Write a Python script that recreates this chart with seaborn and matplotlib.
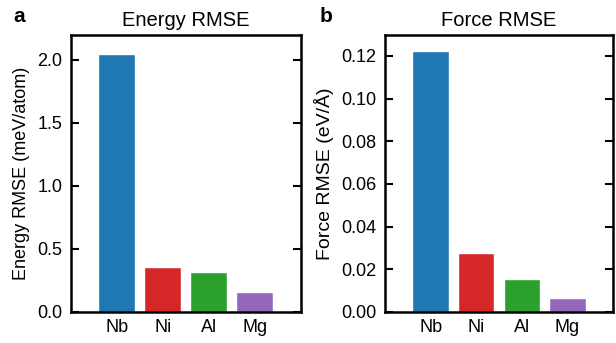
import matplotlib
matplotlib.use("Agg")
import matplotlib.pyplot as plt
import seaborn as sns
import pandas as pd

elements = ["Nb", "Ni", "Al", "Mg"]
energy_rmse = [2.048, 0.36, 0.318, 0.159]   # meV/atom
force_rmse = [0.1224, 0.0277, 0.0155, 0.0066]  # eV/A
colors = ["#1f77b4", "#d62728", "#2ca02c", "#9467bd"]

sns.set_style("ticks")
plt.rcParams["font.family"] = ["Liberation Sans", "DejaVu Sans"]
plt.rcParams["text.color"] = "black"
plt.rcParams["axes.labelcolor"] = "black"

fig = plt.figure(figsize=(6.16, 3.43), dpi=100)
ax1 = fig.add_axes([0.115, 0.0904, 0.373, 0.8086])
ax2 = fig.add_axes([0.625, 0.0904, 0.370, 0.8086])

df_e = pd.DataFrame({"element": elements, "value": energy_rmse})
df_f = pd.DataFrame({"element": elements, "value": force_rmse})

sns.barplot(data=df_e, x="element", y="value", hue="element", palette=colors,
            legend=False, width=0.8, saturation=1, ax=ax1)
sns.barplot(data=df_f, x="element", y="value", hue="element", palette=colors,
            legend=False, width=0.8, saturation=1, ax=ax2)

for ax in (ax1, ax2):
    ax.set_xlim(-1, 4)
    ax.set_xlabel("")
    for s in ax.spines.values():
        s.set_visible(True)
        s.set_linewidth(1.8)
        s.set_color("black")
    ax.tick_params(axis="y", direction="in", right=True, length=6, width=1.5,
                   labelsize=13, pad=6, colors="black")
    ax.tick_params(axis="x", length=0, labelsize=13, pad=5, colors="black")

ax1.set_ylim(0, 2.2)
ax1.set_yticks([0, 0.5, 1.0, 1.5, 2.0])
ax1.set_ylabel("Energy RMSE (meV/atom)", fontsize=13, labelpad=5)
ax1.set_title("Energy RMSE", fontsize=14.5, pad=6)

ax2.set_ylim(0, 0.13)
ax2.set_yticks([0, 0.02, 0.04, 0.06, 0.08, 0.10, 0.12])
ax2.set_yticklabels(["0.00", "0.02", "0.04", "0.06", "0.08", "0.10", "0.12"])
ax2.set_ylabel("Force RMSE (eV/Å)", fontsize=14, labelpad=5)
ax2.set_title("Force RMSE", fontsize=14.5, pad=6)

fig.text(0.021, 0.952, "a", fontsize=15, fontweight="bold", va="center")
fig.text(0.518, 0.952, "b", fontsize=15, fontweight="bold", va="center")

fig.savefig("out.png", dpi=100)
